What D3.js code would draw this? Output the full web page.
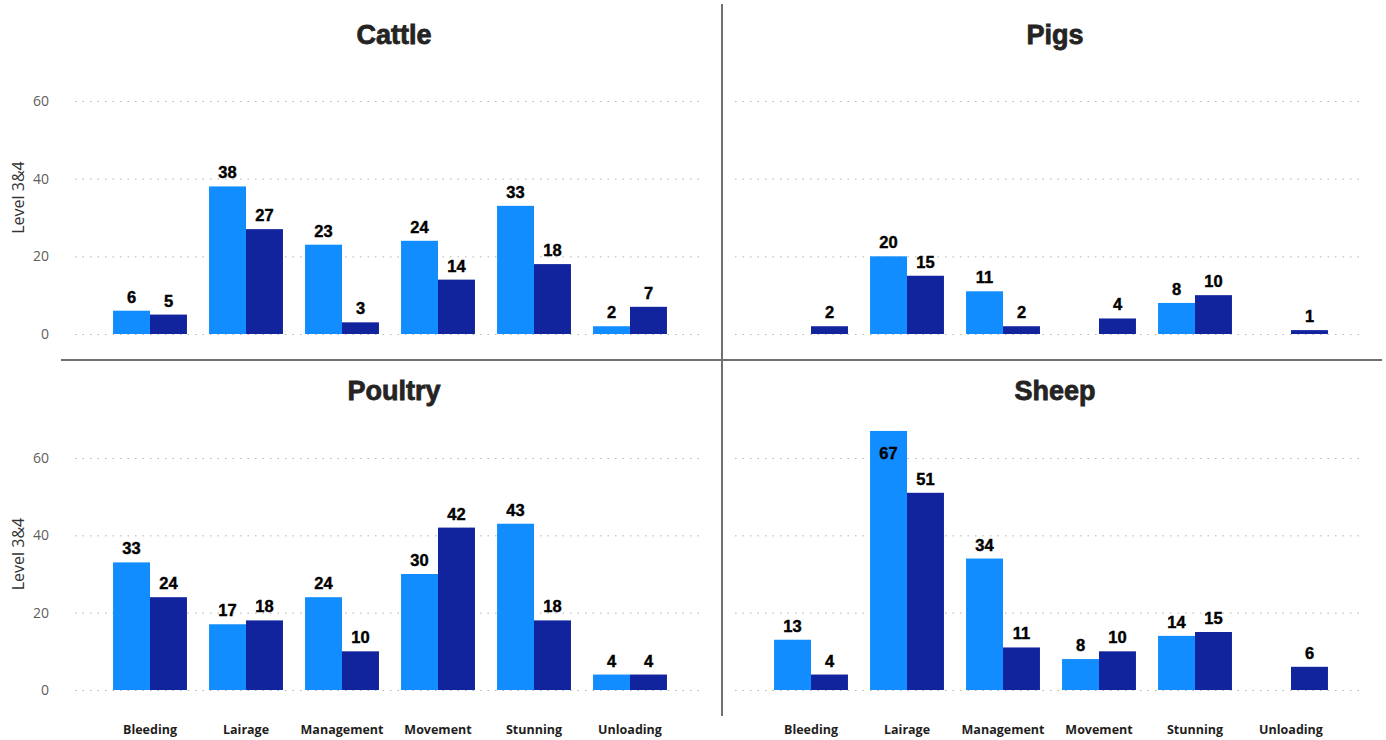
<html>
<head>
  <script src="https://d3js.org/d3.v7.min.js"></script>
  <style>
    body { margin: 0; background: white; }
    .grid line { stroke: #b4b4b4; stroke-dasharray: 1.5 6; }
    .grid .domain { stroke: none; }
    .yaxis text { fill: #605e5c; font-family: "Open Sans", sans-serif; font-size: 14px; }
    .yaxis .domain, .yaxis line { stroke: none; }
    .xaxis text { fill: #1f1e1d; font-family: "Open Sans", sans-serif; font-size: 12.5px; font-weight: bold; }
    .xaxis .domain, .xaxis line { stroke: none; }
    .title { font-family: "Liberation Sans", Arial, sans-serif; font-weight: bold; font-size: 27px; fill: #252423; stroke: #252423; stroke-width: 0.8px; }
    .lbl { font-family: "Liberation Sans", Arial, sans-serif; font-weight: bold; font-size: 16.5px; fill: #000; stroke: #000; stroke-width: 0.4px; }
    .ytitle { font-family: "Open Sans", sans-serif; font-size: 16px; fill: #333; }
    .divider { stroke: #707070; stroke-width: 2px; }
  </style>
</head>
<body>
<svg id="chart" width="1386" height="740"></svg>
<script>
  const categories = ["Bleeding", "Lairage", "Management", "Movement", "Stunning", "Unloading"];
  const yTicks = [0, 20, 40, 60];
  // light series / dark series per animal (null = no bar)
  const cattleA = [6, 38, 23, 24, 33, 2];
  const cattleB = [5, 27, 3, 14, 18, 7];
  const pigsA = [null, 20, 11, null, 8, null];
  const pigsB = [2, 15, 2, 4, 10, 1];
  const poultryA = [33, 17, 24, 30, 43, 4];
  const poultryB = [24, 18, 10, 42, 18, 4];
  const sheepA = [13, 67, 34, 8, 14, null];
  const sheepB = [4, 51, 11, 10, 15, 6];

  const colorA = "#118DFF";
  const colorB = "#12239E";

  const svg = d3.select("#chart");

  const panels = [
    { name: "Cattle", a: cattleA, b: cattleB, left: true, top: true },
    { name: "Pigs", a: pigsA, b: pigsB, left: false, top: true },
    { name: "Poultry", a: poultryA, b: poultryB, left: true, top: false },
    { name: "Sheep", a: sheepA, b: sheepB, left: false, top: false }
  ];

  panels.forEach(p => {
    const xr = p.left ? [102, 678] : [763, 1339];
    const gridX = p.left ? [75, 705] : [735, 1365];
    const yr = p.top ? [334, 101] : [690, 458];
    const plotTop = p.top ? 60 : 415;
    const titleX = p.left ? 394 : 1055;
    const titleY = p.top ? 44 : 400;

    const x = d3.scaleBand().domain(categories).range(xr)
      .paddingInner(0.23).paddingOuter(0.115);
    const x1 = d3.scaleBand().domain(["a", "b"]).range([0, x.bandwidth()]);
    const y = d3.scaleLinear().domain([0, 60]).range(yr);

    svg.append("text").attr("class", "title")
      .attr("x", titleX).attr("y", titleY)
      .attr("text-anchor", "middle").text(p.name);

    svg.append("g").attr("class", "grid")
      .attr("transform", `translate(${gridX[0]},0)`)
      .call(d3.axisLeft(y).tickValues(yTicks).tickSize(-(gridX[1] - gridX[0])).tickFormat(""));

    if (p.left) {
      svg.append("g").attr("class", "yaxis")
        .attr("transform", "translate(52,0)")
        .call(d3.axisLeft(y).tickValues(yTicks).tickSize(0));
      svg.append("text").attr("class", "ytitle")
        .attr("transform", `translate(24,${(yr[0] + yr[1]) / 2 - 20}) rotate(-90)`)
        .attr("text-anchor", "middle").text("Level 3&4");
    }

    const rows = [];
    categories.forEach((c, i) => {
      if (p.a[i] != null) rows.push({ c, k: "a", v: p.a[i], color: colorA });
      if (p.b[i] != null) rows.push({ c, k: "b", v: p.b[i], color: colorB });
    });

    const g = svg.append("g");
    g.selectAll("rect").data(rows).join("rect")
      .attr("x", d => x(d.c) + x1(d.k))
      .attr("width", x1.bandwidth())
      .attr("y", d => y(d.v))
      .attr("height", d => y(0) - y(d.v))
      .attr("fill", d => d.color);

    g.selectAll("text").data(rows).join("text")
      .attr("class", "lbl")
      .attr("text-anchor", "middle")
      .attr("x", d => x(d.c) + x1(d.k) + x1.bandwidth() / 2)
      .attr("y", d => (y(d.v) - 26 < plotTop) ? y(d.v) + 28 : y(d.v) - 8)
      .text(d => d.v);

    if (!p.top) {
      svg.append("g").attr("class", "xaxis")
        .attr("transform", "translate(0,722)")
        .call(d3.axisBottom(x).tickSize(0));
    }
  });

  svg.append("line").attr("class", "divider")
    .attr("x1", 722).attr("x2", 722).attr("y1", 4).attr("y2", 716);
  svg.append("line").attr("class", "divider")
    .attr("x1", 61).attr("x2", 1382).attr("y1", 360).attr("y2", 360);
</script>
</body>
</html>
